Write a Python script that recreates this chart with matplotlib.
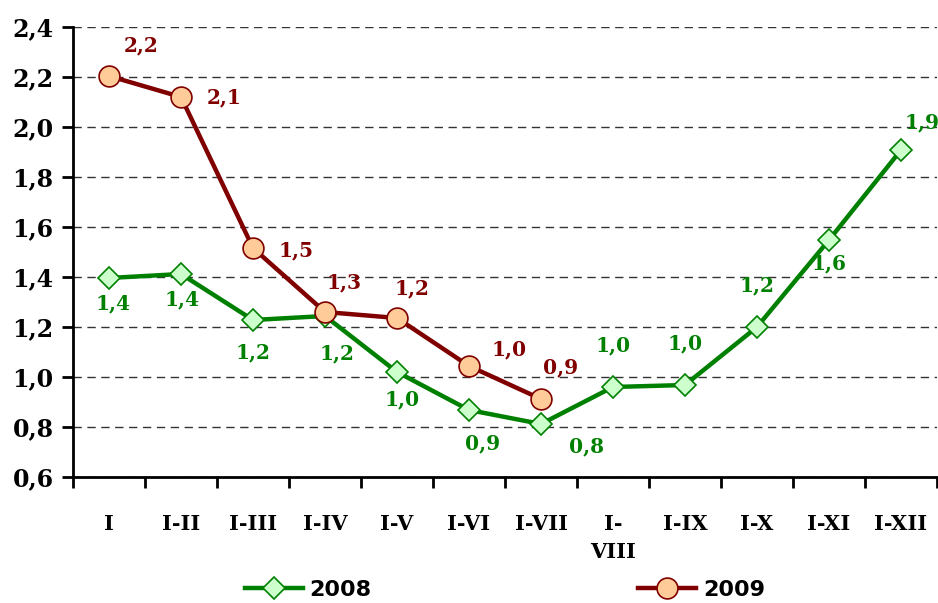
import numpy as np
import matplotlib
matplotlib.use("Agg")
import matplotlib.pyplot as plt
from matplotlib.ticker import FuncFormatter

periods = ["I", "I-II", "I-III", "I-IV", "I-V", "I-VI", "I-VII", "I-\nVIII",
           "I-IX", "I-X", "I-XI", "I-XII"]
vals_2008 = [1.396, 1.412, 1.228, 1.244, 1.02, 0.868, 0.812, 0.96, 0.968, 1.20, 1.548, 1.908]
vals_2009 = [2.204, 2.12, 1.516, 1.26, 1.236, 1.044, 0.912]
labels_2008 = ["1,4", "1,4", "1,2", "1,2", "1,0", "0,9", "0,8", "1,0", "1,0", "1,2", "1,6", "1,9"]
labels_2009 = ["2,2", "2,1", "1,5", "1,3", "1,2", "1,0", "0,9"]

# label offsets in points (dx, dy)
off_2008 = [(3, -18), (1, -18), (0, -23), (9, -27), (4, -20), (10, -24), (33, -16),
            (0, 30), (0, 30), (0, 30), (0, -17), (15, 20)]
off_2009 = [(23, 22), (31, 0), (31, -2), (14, 21), (11, 21), (29, 12), (14, 23)]

GREEN = "#008000"
RED = "#800000"
serif = "DejaVu Serif"

fig = plt.figure(figsize=(9.38, 6.03), dpi=100)
ax = fig.add_axes([73 / 938, 126 / 603, 864 / 938, 450 / 603])

x08 = np.arange(len(vals_2008))
x09 = np.arange(len(vals_2009))

ax.plot(x08, vals_2008, color=GREEN, lw=3.2, marker="D", markersize=11,
        markerfacecolor="#CCFFCC", markeredgecolor=GREEN, markeredgewidth=1.2,
        label="2008", zorder=3)
ax.plot(x09, vals_2009, color=RED, lw=3.2, marker="o", markersize=15,
        markerfacecolor="#FFCC99", markeredgecolor=RED, markeredgewidth=1.2,
        label="2009", zorder=4)

for x, y, t, o in zip(x08, vals_2008, labels_2008, off_2008):
    ax.annotate(t, (x, y), xytext=o, textcoords="offset points", ha="center",
                va="center", color=GREEN, fontsize=14.5, fontweight="bold",
                family=serif, zorder=5)
for x, y, t, o in zip(x09, vals_2009, labels_2009, off_2009):
    ax.annotate(t, (x, y), xytext=o, textcoords="offset points", ha="center",
                va="center", color=RED, fontsize=14.5, fontweight="bold",
                family=serif, zorder=5)

ax.set_xlim(-0.5, len(periods) - 0.5)
ax.set_ylim(0.6, 2.4)
ax.set_yticks(np.arange(0.6, 2.41, 0.2))
ax.yaxis.set_major_formatter(FuncFormatter(lambda v, p: f"{v:.1f}".replace(".", ",")))
ax.set_xticks(x08)
ax.set_xticklabels(periods)
ax.set_xticks(np.arange(-0.5, len(periods), 1), minor=True)
ax.tick_params(axis="x", which="major", length=0, pad=27)
ax.tick_params(axis="x", which="minor", length=8, width=2, direction="out")
ax.tick_params(axis="y", length=8, width=2, direction="out", pad=6)

for lab in ax.get_xticklabels() + ax.get_yticklabels():
    lab.set_family(serif)
    lab.set_fontweight("bold")
for lab in ax.get_xticklabels():
    lab.set_fontsize(15)
    lab.set_linespacing(1.5)
for lab in ax.get_yticklabels():
    lab.set_fontsize(17)

ax.grid(axis="y", color="0.2", lw=1, linestyle=(0, (6, 4)))
ax.set_axisbelow(True)
for s in ["top", "right"]:
    ax.spines[s].set_visible(False)
for s in ["left", "bottom"]:
    ax.spines[s].set_linewidth(2)

fig.legend(loc="center", bbox_to_anchor=(505 / 938, 13 / 603), ncol=2,
           frameon=False, columnspacing=12, handlelength=2.6, handletextpad=0.3,
           prop={"family": "DejaVu Sans", "weight": "bold", "size": 16})

fig.savefig("out.png", dpi=100)
